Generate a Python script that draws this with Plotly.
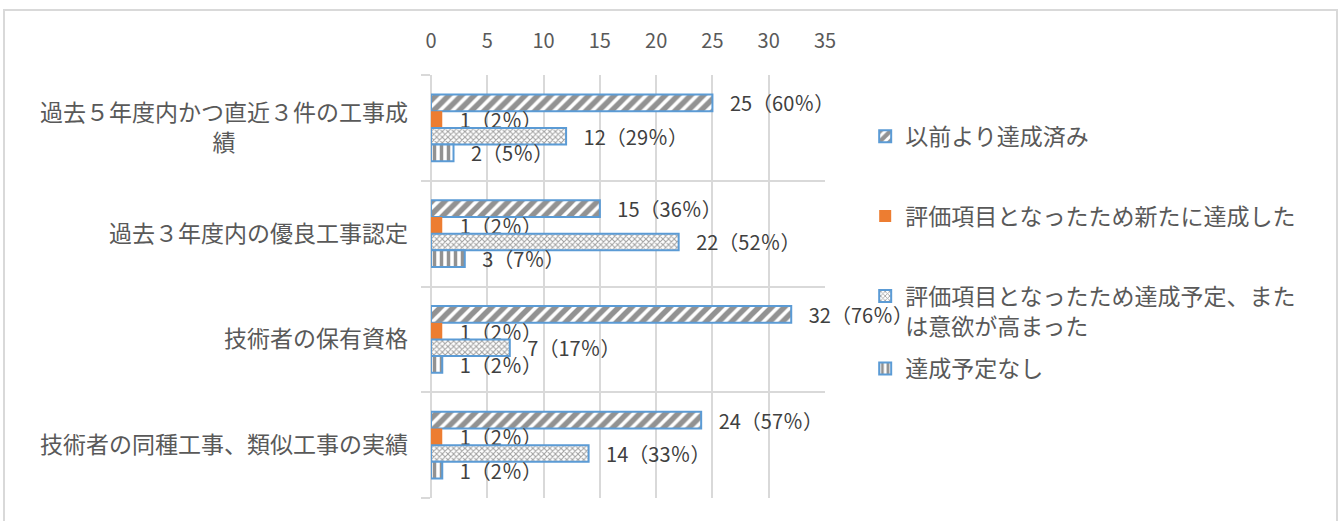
import plotly.graph_objects as go

categories = [
    "過去５年度内かつ直近３件の工事成績",
    "過去３年度内の優良工事認定",
    "技術者の保有資格",
    "技術者の同種工事、類似工事の実績",
]
category_labels = [
    "過去５年度内かつ直近３件の工事成<br>績" + "\u3000" * 7 + "\u2002",
    "過去３年度内の優良工事認定",
    "技術者の保有資格",
    "技術者の同種工事、類似工事の実績",
]
series_names = [
    "以前より達成済み",
    "評価項目となったため新たに達成した",
    "評価項目となったため達成予定、また<br>は意欲が高まった",
    "達成予定なし",
]
already = [25, 15, 32, 24]
newly = [1, 1, 1, 1]
planned = [12, 22, 7, 14]
none_planned = [2, 3, 1, 1]
already_pct = [60, 36, 76, 57]
newly_pct = [2, 2, 2, 2]
planned_pct = [29, 52, 17, 33]
none_pct = [5, 7, 2, 2]
x_ticks = [0, 5, 10, 15, 20, 25, 30, 35]

FONT = "Noto Sans CJK JP"
BLUE = "#5B9BD5"
ORANGE = "#ED7D31"
GRID = "#D9D9D9"

def labels(vals, pcts):
    return ["\u2002 " + f"{v}（{p}％）" for v, p in zip(vals, pcts)]

styles = [
    dict(pattern=dict(shape="/", fgcolor="#262626", bgcolor="white", size=9, solidity=0.6),
         color="white", line=dict(color=BLUE, width=2)),
    dict(color=ORANGE, line=dict(width=0)),
    dict(pattern=dict(shape="x", fgcolor="#404040", bgcolor="white", size=4, solidity=0.45),
         color="white", line=dict(color=BLUE, width=2)),
    dict(pattern=dict(shape="|", fgcolor="#262626", bgcolor="white", size=7, solidity=0.5),
         color="white", line=dict(color=BLUE, width=2)),
]
data = [(already, already_pct), (newly, newly_pct), (planned, planned_pct), (none_planned, none_pct)]

fig = go.Figure()
for i, ((vals, pcts), st, name) in enumerate(zip(data, styles, series_names)):
    fig.add_trace(go.Bar(
        y=categories, x=vals, orientation="h", name=name,
        marker=st, text=labels(vals, pcts), textposition="outside",
        textfont=dict(family=FONT, size=20, color="#404040"),
        constraintext="none", cliponaxis=False,
        legendgroup=f"g{i}", legend="legend2" if i == 3 else "legend",
        hoverinfo="skip",
    ))

fig.update_layout(
    width=1343, height=521,
    margin=dict(l=431, r=518, t=75, b=23, autoexpand=False),
    paper_bgcolor="white", plot_bgcolor="white",
    font=dict(family=FONT, color="#595959"),
    barmode="group", bargap=0.37, bargroupgap=0,
    showlegend=True,
    legend=dict(x=1.102, y=0.906, xanchor="left", yanchor="top",
                font=dict(family=FONT, size=23, color="#595959"),
                tracegroupgap=47, valign="top", bgcolor="rgba(0,0,0,0)"),
    legend2=dict(x=1.102, y=0.357, xanchor="left", yanchor="top",
                 font=dict(family=FONT, size=23, color="#595959"),
                 bgcolor="rgba(0,0,0,0)"),
    xaxis=dict(side="top", range=[0, 35], tickvals=x_ticks, showgrid=True, automargin=False,
               gridcolor=GRID, gridwidth=2, zeroline=True, zerolinecolor=GRID, zerolinewidth=2,
               ticks="", tickfont=dict(family=FONT, size=20, color="#595959"),
               ticklabelstandoff=22, fixedrange=True),
    yaxis=dict(type="category", categoryorder="array", categoryarray=categories, automargin=False,
               autorange="reversed", tickson="boundaries", tickvals=categories, ticktext=category_labels,
               showgrid=True, gridcolor=GRID, gridwidth=2, ticks="outside", ticklen=9,
               tickcolor=GRID, tickwidth=2, tickfont=dict(family=FONT, size=23, color="#595959"),
               ticklabelstandoff=22, fixedrange=True),
    shapes=[dict(type="rect", xref="paper", yref="paper", x0=-1.0838, x1=2.2995, y0=-0.0993, y1=1.15366,
                 line=dict(color=GRID, width=2), fillcolor="rgba(0,0,0,0)", layer="below")],
)

fig.write_html("out.html", config={"displayModeBar": False},
               post_script="document.body.style.margin='0';document.body.style.overflow='hidden';")
